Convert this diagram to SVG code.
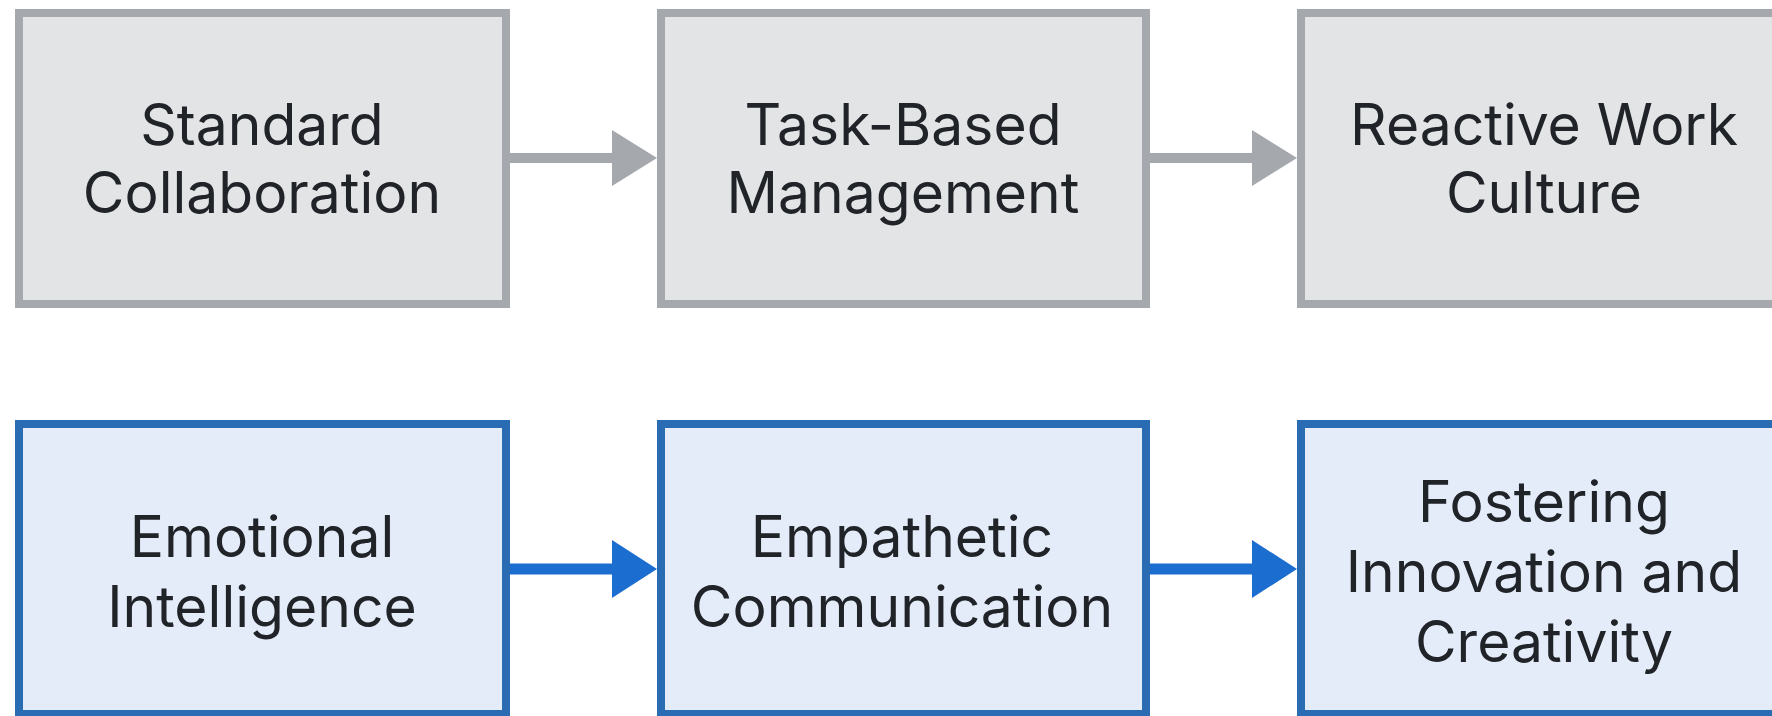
<svg xmlns="http://www.w3.org/2000/svg" width="1772" height="716" viewBox="0 0 1772 716">
  <style>
    .gbox { fill: #e3e4e6; stroke: #a5a8ad; stroke-width: 8; }
    .bbox { fill: #e3ecf8; stroke: #2a6cb4; stroke-width: 8; }
    .lbl { font-family: Inter, "Liberation Sans", sans-serif; font-size: 57px; fill: #202328; text-anchor: middle; }
    .gline { stroke: #a5a8ad; stroke-width: 10; fill: none; }
    .bline { stroke: #1c6dd0; stroke-width: 11; fill: none; }
  </style>
  <defs>
    <marker id="gh" markerUnits="userSpaceOnUse" markerWidth="46" markerHeight="56" refX="0" refY="28" orient="auto">
      <path d="M0,0 L45,28 L0,56 Z" fill="#a5a8ad"/>
    </marker>
    <marker id="bh" markerUnits="userSpaceOnUse" markerWidth="46" markerHeight="58" refX="0" refY="29" orient="auto">
      <path d="M0,0 L45,29 L0,58 Z" fill="#1c6dd0"/>
    </marker>
  </defs>
  <rect width="1772" height="716" fill="#ffffff"/>

  <g id="node-standard-collaboration">
    <rect class="gbox" x="19" y="13" width="487" height="291"/>
    <text class="lbl" x="262" y="145">Standard</text>
    <text class="lbl" x="262" y="213">Collaboration</text>
  </g>
  <g id="node-task-based-management">
    <rect class="gbox" x="661" y="13" width="485" height="291"/>
    <text class="lbl" x="903" y="145">Task-Based</text>
    <text class="lbl" x="903" y="213">Management</text>
  </g>
  <g id="node-reactive-work-culture">
    <rect class="gbox" x="1301" y="13" width="486" height="291"/>
    <text class="lbl" x="1544" y="145">Reactive Work</text>
    <text class="lbl" x="1544" y="213">Culture</text>
  </g>

  <g id="node-emotional-intelligence">
    <rect class="bbox" x="19" y="424" width="487" height="290"/>
    <text class="lbl" x="262" y="557">Emotional</text>
    <text class="lbl" x="262" y="627">Intelligence</text>
  </g>
  <g id="node-empathetic-communication">
    <rect class="bbox" x="661" y="424" width="485" height="290"/>
    <text class="lbl" x="902" y="557">Empathetic</text>
    <text class="lbl" x="902" y="627">Communication</text>
  </g>
  <g id="node-fostering-innovation">
    <rect class="bbox" x="1301" y="424" width="486" height="290"/>
    <text class="lbl" x="1544" y="522">Fostering</text>
    <text class="lbl" x="1544" y="592">Innovation and</text>
    <text class="lbl" x="1544" y="662">Creativity</text>
  </g>

  <g id="connectors">
    <line class="gline" x1="510" y1="158" x2="612" y2="158" marker-end="url(#gh)"/>
    <line class="gline" x1="1150" y1="158" x2="1252" y2="158" marker-end="url(#gh)"/>
    <line class="bline" x1="510" y1="569" x2="612" y2="569" marker-end="url(#bh)"/>
    <line class="bline" x1="1150" y1="569" x2="1252" y2="569" marker-end="url(#bh)"/>
  </g>
</svg>
